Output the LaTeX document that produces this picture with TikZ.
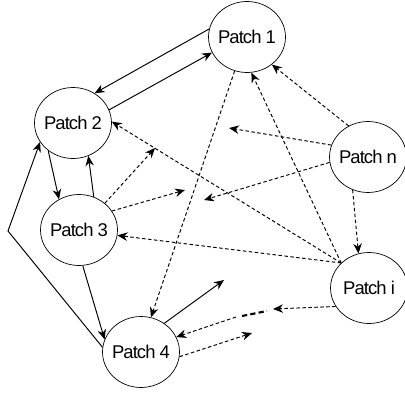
\documentclass[tikz,border=0pt]{standalone}
\usepackage{fontspec}
\setmainfont{Liberation Sans}
\newfontfamily\patchfont[LetterSpace=-5]{Liberation Sans}
\usetikzlibrary{arrows.meta,shapes.geometric}

\begin{document}
\begin{tikzpicture}[x=0.02cm, y=-0.02cm, >={Stealth[length=2mm, width=1.7mm]},
                      pt/.style={draw, ellipse, minimum width=15.4mm, minimum height=14.2mm,
                                 inner sep=0pt, inner xsep=-2.5mm,
                                 font=\patchfont\fontsize{10.5}{12}\selectfont},
                      lk/.style={line width=0.55pt},
                      dl/.style={line width=0.55pt, dash pattern=on 2pt off 1.4pt}]
    \useasboundingbox (0,0) rectangle (405,392);
    \node[pt] (p1) at (247,37)  {Patch 1};
    \node[pt] (p2) at (73,123)  {Patch 2};
    \node[pt] (p3) at (79,230)  {Patch 3};
    \node[pt] (p4) at (141,352) {Patch 4};
    \node[pt] (pn) at (368,157) {Patch n};
    \node[pt] (pi) at (369,288) {Patch i};
    % loose arrow ends
    \coordinate (k4) at (224,280);
    \coordinate (bend) at (8,231);
    \coordinate (na) at (229,128);
    \coordinate (nb) at (204,200);
    \coordinate (ta) at (155,148);
    \coordinate (tb) at (185,190);
    \coordinate (ia) at (273,309);
    \coordinate (da) at (242,316);
    \coordinate (db) at (267,311);
    \coordinate (dc) at (236,317);
    \coordinate (fa) at (252,333);
    % solid links
    \draw[lk, ->] (p1.168) -- (p2.54);
    \draw[lk, ->] (p2.20) -- (p1.204);
    \draw[lk, ->] (p2.228) -- (p3.123);
    \draw[lk, ->] (p3.66) -- (p2.295);
    \draw[lk, ->] (p3.276) -- (p4.161);
    \draw[lk, ->] (p4.173) -- (bend) -- (p2.210);
    \draw[lk, ->] (p4.51) -- (k4);
    % dashed links
    \draw[dl, ->] (p1.250) -- (p4.74);
    \draw[dl, ->] (pi.138) -- (p1.277);
    \draw[dl, ->] (pn.122) -- (p1.312);
    \draw[dl, ->] (pn.162) -- (na);
    \draw[dl, ->] (pn.188) -- (nb);
    \draw[dl, ->] (pn.245) -- (pi.107);
    \draw[dl, ->] (pi.138) -- (p2.2);
    \draw[dl, ->] (pi.138) -- (p3.352);
    \draw[dl, ->] (p3.46) -- (ta);
    \draw[dl, ->] (p3.30) -- (tb);
    \draw[dl, ->] (pi.209) -- (ia);
    \draw[line width=1.2pt, dash pattern=on 3pt off 1.8pt] (da) -- (db);
    \draw[dl, ->] (dc) -- (p4.23);
    \draw[dl, ->] (p4.353) -- (fa);
  \end{tikzpicture}
\end{document}
